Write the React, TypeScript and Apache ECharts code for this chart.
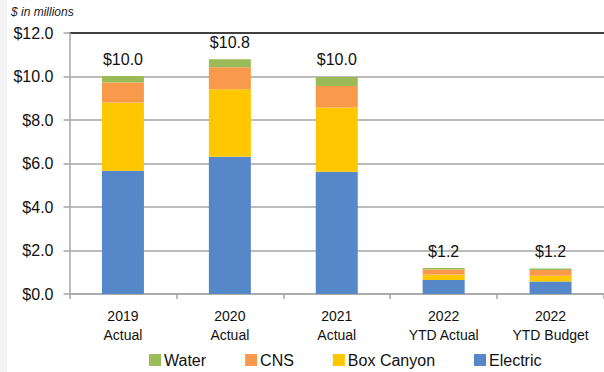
import React, { useEffect, useRef } from "react";
import * as echarts from "echarts";

const categories = ["2019\nActual", "2020\nActual", "2021\nActual", "2022\nYTD Actual", "2022\nYTD Budget"];
const electric = [5.67, 6.31, 5.62, 0.64, 0.57];
const boxCanyon = [3.13, 3.10, 2.96, 0.26, 0.27];
const cns = [0.92, 1.01, 0.98, 0.23, 0.26];
const water = [0.30, 0.37, 0.42, 0.06, 0.07];
const yTicks = [0, 2, 4, 6, 8, 10, 12];

const FONT = "'Liberation Sans', Arial, sans-serif";

export default function App() {
  const ref = useRef<HTMLDivElement>(null);
  useEffect(() => {
    if (!ref.current) return;
    const chart = echarts.init(ref.current, null, { renderer: "svg" });
    const totals = categories.map((_, i) => electric[i] + boxCanyon[i] + cns[i] + water[i]);
    const gridColors = yTicks.map((v) => (v === yTicks[yTicks.length - 1] ? "#000000" : "#a6a6a6"));
    const mk = (name: string, data: number[], color: string, top = false) => ({
      name,
      type: "bar",
      stack: "total",
      data,
      barWidth: 42,
      itemStyle: { color },
      label: top
        ? {
            show: true,
            position: "top",
            distance: 9,
            fontFamily: FONT,
            fontSize: 16,
            color: "#111",
            formatter: (p: any) => "$" + totals[p.dataIndex].toFixed(1),
          }
        : { show: false },
    });
    chart.setOption({
      animation: false,
      backgroundColor: "#ffffff",
      textStyle: { fontFamily: FONT },
      graphic: [
        { type: "rect", shape: { x: 0, y: 0, width: 7, height: 372 }, style: { fill: "#f3f3f3" }, silent: true },
        {
          type: "text",
          left: 11,
          top: 6,
          style: { text: "$ in millions", font: "italic 12px " + FONT, fill: "#222" },
        },
      ],
      grid: { left: 69.5, right: -8, top: 33, bottom: 78, containLabel: false },
      legend: {
        data: ["Water", "CNS", "Box Canyon", "Electric"],
        left: 144,
        top: 347,
        itemWidth: 12,
        itemHeight: 12,
        itemGap: 39,
        icon: "rect",
        textStyle: { fontFamily: FONT, fontSize: 16, color: "#111", padding: [0, 0, 0, -2] },
      },
      xAxis: {
        type: "category",
        data: categories,
        axisLine: { lineStyle: { color: "#a6a6a6", width: 1.5 } },
        axisTick: { show: true, length: 5, alignWithLabel: false, lineStyle: { color: "#a6a6a6", width: 1.5 } },
        axisLabel: { fontFamily: FONT, fontSize: 14, color: "#111", lineHeight: 19, margin: 12, interval: 0 },
      },
      yAxis: {
        type: "value",
        min: 0,
        max: 12,
        interval: 2,
        axisLine: { show: true, lineStyle: { color: "#a6a6a6", width: 1.5 } },
        axisTick: { show: true, length: 6, lineStyle: { color: "#a6a6a6", width: 1.5 } },
        axisLabel: {
          fontFamily: FONT,
          fontSize: 16,
          color: "#111",
          margin: 16,
          formatter: (v: number) => "$" + v.toFixed(1),
        },
        splitLine: { show: true, lineStyle: { color: gridColors, width: 1.5 } },
      },
      series: [
        mk("Electric", electric, "#5687c9"),
        mk("Box Canyon", boxCanyon, "#ffc700"),
        mk("CNS", cns, "#f9994b"),
        mk("Water", water, "#9bbb59", true),
      ],
    });
    return () => chart.dispose();
  }, []);
  return <div ref={ref} style={{ position: "fixed", left: 0, top: 0, width: 604, height: 372 }} />;
}
